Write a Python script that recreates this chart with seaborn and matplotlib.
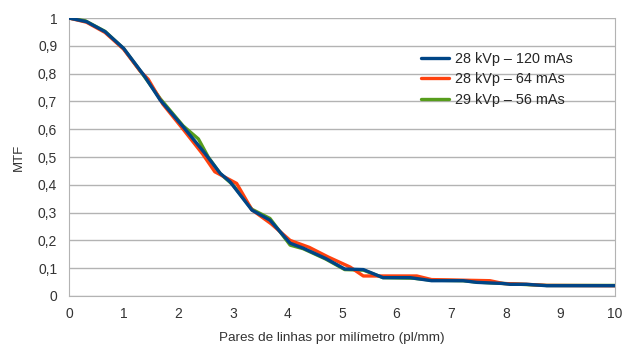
import pandas as pd
import seaborn as sns
import matplotlib.pyplot as plt

# Curvas MTF
x_120 = [0, 0.32, 0.66, 1.0, 1.39, 1.67, 2.09, 2.49, 2.77, 2.95, 3.35, 3.68, 4.05, 4.29, 4.7,
         5.05, 5.39, 5.75, 6.25, 6.64, 7.22, 7.47, 7.95, 8.08, 8.38, 8.75, 10]
y_120 = [1.0, 0.987, 0.951, 0.891, 0.789, 0.705, 0.609, 0.513, 0.441, 0.411, 0.309, 0.273, 0.19, 0.172, 0.135,
         0.097, 0.095, 0.066, 0.066, 0.055, 0.055, 0.049, 0.045, 0.042, 0.042, 0.037, 0.037]

x_64 = [0, 0.32, 0.66, 1.0, 1.3, 1.45, 1.72, 2.09, 2.45, 2.67, 3.07, 3.35, 3.7, 4.05, 4.4,
        4.75, 5.15, 5.39, 5.73, 6.37, 6.64, 7.71, 7.95, 8.38, 8.75, 10]
y_64 = [1.0, 0.985, 0.948, 0.888, 0.81, 0.78, 0.69, 0.6, 0.51, 0.447, 0.405, 0.31, 0.26, 0.2, 0.175,
        0.14, 0.104, 0.072, 0.072, 0.072, 0.059, 0.055, 0.045, 0.042, 0.038, 0.037]

x_56 = [0, 0.3, 0.66, 1.0, 1.36, 1.67, 2.09, 2.37, 2.55, 2.77, 3.0, 3.35, 3.68, 4.05, 4.29,
        4.7, 5.05, 5.39, 5.75, 6.3, 6.64, 7.22, 7.47, 7.95, 8.38, 8.75, 10]
y_56 = [1.0, 0.99, 0.952, 0.89, 0.795, 0.71, 0.612, 0.565, 0.5, 0.44, 0.4, 0.312, 0.279, 0.183, 0.17,
        0.133, 0.095, 0.093, 0.066, 0.064, 0.057, 0.055, 0.05, 0.045, 0.041, 0.038, 0.038]

series = ['28 kVp – 120 mAs', '28 kVp – 64 mAs', '29 kVp – 56 mAs']
cores = ['#004586', '#ff420e', '#579d1c']

df = pd.concat([
    pd.DataFrame({'x': x_120, 'y': y_120, 'serie': series[0]}),
    pd.DataFrame({'x': x_64, 'y': y_64, 'serie': series[1]}),
    pd.DataFrame({'x': x_56, 'y': y_56, 'serie': series[2]}),
])

sns.set_style('white')
plt.rcParams['font.family'] = ['Liberation Sans', 'DejaVu Sans']

fig = plt.figure(figsize=(6.24, 3.47), dpi=100)
ax = fig.add_axes([0.1106, 0.147, 0.8750, 0.801])

# desenhar verde, laranja e azul por cima
for s, c, z in zip(series[::-1], cores[::-1], [2, 3, 4]):
    sns.lineplot(data=df[df['serie'] == s], x='x', y='y', color=c, lw=2.4,
                 label=s, ax=ax, zorder=z, sort=False, estimator=None)

ax.set_xlim(0, 10)
ax.set_ylim(0, 1)
ax.set_xticks(range(0, 11))
yt = [i / 10 for i in range(11)]
ax.set_yticks(yt)
ax.set_yticklabels(['0', '0,1', '0,2', '0,3', '0,4', '0,5', '0,6', '0,7', '0,8', '0,9', '1'])
ax.grid(axis='y', color='#b3b3b3', lw=1)
ax.set_axisbelow(True)
for side in ['left', 'bottom', 'right']:
    ax.spines[side].set_color('#b3b3b3')
ax.spines['top'].set_visible(False)
ax.tick_params(axis='both', colors='#b3b3b3', length=5, labelsize=10, labelcolor='#333333')
ax.tick_params(axis='x', pad=3)
ax.set_xlabel('Pares de linhas por milímetro (pl/mm)', fontsize=9.7, color='#333333', labelpad=10)
ax.xaxis.set_label_coords(0.482, -0.13)
ax.set_ylabel('MTF', fontsize=9.5, color='#333333', labelpad=9)

h, l = ax.get_legend_handles_labels()
ax.legend(h[::-1], l[::-1], loc='upper left', bbox_to_anchor=(0.62, 0.926), frameon=False,
          fontsize=10.4, handlelength=2.0, labelspacing=0.45, handletextpad=0.4)

fig.savefig('out.png', dpi=100)
